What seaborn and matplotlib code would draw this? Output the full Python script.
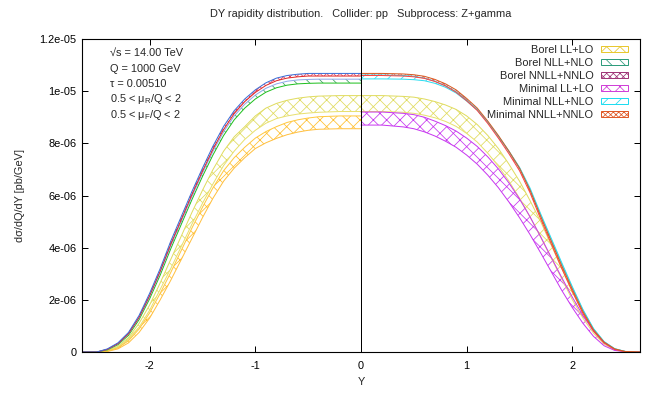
import numpy as np
import pandas as pd
import seaborn as sns
import matplotlib.pyplot as plt
from matplotlib.patches import Patch

# rapidity grids: left half shows the Borel bands, right half the Minimal ones
y_left = [-2.64, -2.5, -2.4, -2.3, -2.2, -2.1, -2.0, -1.9, -1.8, -1.7, -1.6, -1.5, -1.4,
          -1.3, -1.2, -1.1, -1.0, -0.9, -0.8, -0.7, -0.6, -0.5, -0.4, -0.2, 0.0]
y_right = [0.0, 0.2, 0.4, 0.5, 0.6, 0.7, 0.8, 0.9, 1.0, 1.1, 1.2, 1.3, 1.4, 1.5, 1.6,
           1.7, 1.8, 1.9, 2.0, 2.1, 2.2, 2.3, 2.4, 2.5, 2.64]

# values in units of 1e-6 pb/GeV
borel_nnll_hi = [0, 0, 0.12, 0.35, 0.75, 1.4, 2.25, 3.2, 4.25, 5.2, 6.15, 7.05, 7.9,
                 8.65, 9.25, 9.7, 10.05, 10.32, 10.5, 10.6, 10.65, 10.68, 10.68, 10.68, 10.68]
borel_nnll_lo = [0, 0, 0.1, 0.32, 0.7, 1.33, 2.16, 3.1, 4.13, 5.08, 6.03, 6.93, 7.78,
                 8.53, 9.14, 9.6, 9.95, 10.22, 10.4, 10.5, 10.55, 10.58, 10.58, 10.58, 10.58]
borel_nll_hi = [0, 0, 0.1, 0.31, 0.69, 1.31, 2.13, 3.06, 4.08, 5.02, 5.96, 6.86, 7.7,
                8.44, 9.05, 9.5, 9.85, 10.11, 10.28, 10.38, 10.43, 10.45, 10.46, 10.46, 10.46]
borel_nll_lo = [0, 0, 0.08, 0.28, 0.64, 1.24, 2.04, 2.95, 3.96, 4.9, 5.84, 6.73, 7.56,
                8.3, 8.9, 9.35, 9.7, 9.96, 10.13, 10.23, 10.28, 10.3, 10.31, 10.31, 10.31]
borel_ll_hi = [0, 0, 0.03, 0.16, 0.43, 0.88, 1.5, 2.25, 3.05, 3.9, 4.75, 5.55, 6.3,
               6.95, 7.45, 7.85, 8.2, 8.45, 8.64, 8.8, 8.9, 8.97, 9.02, 9.05, 9.05]
borel_ll_lo = [0, 0, 0.02, 0.12, 0.35, 0.75, 1.3, 2.0, 2.75, 3.55, 4.35, 5.15, 5.9,
               6.55, 7.05, 7.45, 7.8, 8.02, 8.19, 8.33, 8.43, 8.5, 8.54, 8.56, 8.56]

# light yellow band, drawn over the whole range
yellow_left_hi = [0, 0, 0.05, 0.22, 0.55, 1.1, 1.8, 2.65, 3.55, 4.45, 5.35, 6.2, 7.0,
                  7.7, 8.25, 8.64, 9.05, 9.35, 9.53, 9.65, 9.73, 9.78, 9.81, 9.83, 9.83]
yellow_left_lo = [0, 0, 0.03, 0.18, 0.47, 0.95, 1.6, 2.4, 3.2, 4.05, 4.9, 5.7, 6.45,
                  7.15, 7.7, 8.15, 8.5, 8.77, 8.95, 9.05, 9.12, 9.16, 9.19, 9.22, 9.22]
yellow_right_hi = [9.83, 9.83, 9.8, 9.77, 9.7, 9.6, 9.47, 9.3, 9.05, 8.72, 8.3, 7.8, 7.2,
                   6.55, 5.8, 5.0, 4.1, 3.2, 2.3, 1.5, 0.85, 0.36, 0.1, 0.02, 0]
yellow_right_lo = [9.22, 9.22, 9.19, 9.15, 9.08, 8.98, 8.84, 8.65, 8.38, 8.05, 7.62, 7.12, 6.55,
                   5.9, 5.17, 4.4, 3.6, 2.8, 2.0, 1.3, 0.72, 0.3, 0.08, 0.01, 0]

minimal_nnll_hi = [10.68, 10.68, 10.66, 10.63, 10.57, 10.45, 10.28, 10.05, 9.72, 9.35, 8.85, 8.3, 7.7,
                   7.05, 6.2, 5.2, 4.25, 3.3, 2.4, 1.55, 0.85, 0.38, 0.12, 0.02, 0]
minimal_nnll_lo = [10.6, 10.6, 10.58, 10.55, 10.49, 10.37, 10.2, 9.96, 9.63, 9.26, 8.76, 8.2, 7.6,
                   6.95, 6.1, 5.1, 4.15, 3.2, 2.32, 1.48, 0.8, 0.35, 0.1, 0.01, 0]
minimal_nll_hi = [10.62, 10.62, 10.6, 10.57, 10.5, 10.38, 10.21, 9.98, 9.66, 9.3, 8.81, 8.27, 7.68,
                  7.04, 6.22, 5.24, 4.3, 3.36, 2.46, 1.6, 0.88, 0.39, 0.12, 0.02, 0]
minimal_nll_lo = [10.47, 10.47, 10.46, 10.44, 10.4, 10.3, 10.15, 9.93, 9.62, 9.28, 8.8, 8.27, 7.7,
                  7.08, 6.28, 5.3, 4.36, 3.42, 2.5, 1.63, 0.9, 0.4, 0.13, 0.02, 0]
minimal_ll_hi = [9.2, 9.2, 9.15, 9.1, 9.0, 8.85, 8.68, 8.47, 8.2, 7.88, 7.48, 7.02, 6.48,
                 5.87, 5.18, 4.42, 3.63, 2.85, 2.1, 1.4, 0.8, 0.35, 0.1, 0.02, 0]
minimal_ll_lo = [8.7, 8.7, 8.63, 8.56, 8.44, 8.28, 8.08, 7.85, 7.55, 7.2, 6.78, 6.3, 5.75,
                 5.15, 4.5, 3.8, 3.08, 2.36, 1.7, 1.1, 0.6, 0.24, 0.06, 0.01, 0]

legend_labels = ["Borel LL+LO", "Borel NLL+NLO", "Borel NNLL+NNLO",
                 "Minimal LL+LO", "Minimal NLL+NLO", "Minimal NNLL+NNLO"]
legend_colors = ["#e8c830", "#2e9c7c", "#a03878", "#d040d8", "#20dcf0", "#e05a28"]
legend_hatches = ["xx", "\\\\", "xxxx", "xx", "//", "xxxxx"]

xticks = [-2, -1, 0, 1, 2]
yticks = [0, 2e-6, 4e-6, 6e-6, 8e-6, 1e-5, 1.2e-5]
ytick_labels = ["0", "2e-06", "4e-06", "6e-06", "8e-06", "1e-05", "1.2e-05"]

sns.set_theme(style="ticks")
plt.rcParams["font.family"] = ["Liberation Sans", "DejaVu Sans"]
plt.rcParams["mathtext.fontset"] = "custom"
plt.rcParams["mathtext.rm"] = "Liberation Sans"
plt.rcParams["hatch.linewidth"] = 0.7

fs = 9.9
fig = plt.figure(figsize=(8.2, 4.925), dpi=80)
ax = fig.add_axes([82 / 656, 1 - 352 / 394, 558 / 656, 313 / 394])

# (x, lo, hi, hatch colour, hatch, lo line colour, hi line colour)
bands = [
    (y_left, yellow_left_lo, yellow_left_hi, "#e0dc60", "xx", "#e8e070", "#e0dc60"),
    (y_right, yellow_right_lo, yellow_right_hi, "#e0dc60", "xx", "#e8e070", "#e0dc60"),
    (y_left, borel_ll_lo, borel_ll_hi, "#ffc030", "xx", "#ffc040", "#ffc840"),
    (y_left, borel_nll_lo, borel_nll_hi, "#3aa060", "\\\\", "#20c020", "#90a8ea"),
    (y_left, borel_nnll_lo, borel_nnll_hi, "#e04060", "xxxx", "#e02828", "#3a6fd8"),
    (y_right, minimal_ll_lo, minimal_ll_hi, "#c838f0", "xx", "#c838f0", "#c838f0"),
    (y_right, minimal_nll_lo, minimal_nll_hi, "#30d8f0", "//", "#30dcf0", "#30dcf0"),
    (y_right, minimal_nnll_lo, minimal_nnll_hi, "#ff5040", "xxxx", "#ff4040", "#d85a20"),
]

for x, lo, hi, hc, hatch, lc_lo, lc_hi in bands:
    lo_v = np.array(lo) * 1e-6
    hi_v = np.array(hi) * 1e-6
    ax.fill_between(x, lo_v, hi_v, facecolor="none", edgecolor=hc, hatch=hatch,
                    linewidth=0)
    sns.lineplot(x=x, y=lo_v, color=lc_lo, lw=0.9, ax=ax)
    sns.lineplot(x=x, y=hi_v, color=lc_hi, lw=0.9, ax=ax)

ax.axvline(0, color="black", lw=0.9)

ax.set_xlim(-2.64, 2.64)
ax.set_ylim(0, 1.2e-5)
ax.set_xticks(xticks)
ax.set_xticklabels([str(t) for t in xticks])
ax.set_yticks(yticks)
ax.set_yticklabels(ytick_labels)
ax.tick_params(direction="in", length=5, width=0.9, top=True, right=True,
               labelsize=fs, colors="black")
ax.tick_params(axis="y", pad=5)
ax.tick_params(axis="x", pad=8)
for s in ax.spines.values():
    s.set_color("black")
    s.set_linewidth(1.0)
ax.set_xlabel("")
ax.set_ylabel("")

fig.text(361 / 656, 1 - 14 / 394,
         "DY rapidity distribution.   Collider: pp   Subprocess: Z+gamma",
         ha="center", va="center", fontsize=fs)
fig.text(361 / 656, 1 - 382 / 394, "Y", ha="center", va="center", fontsize=fs)
fig.text(20 / 656, 1 - 195 / 394, "dσ/dQ/dY [pb/GeV]", rotation=90,
         ha="center", va="center", fontsize=fs)

info = ["√s = 14.00 TeV", "Q = 1000 GeV", "τ = 0.00510",
        r"0.5 < μ$_\mathrm{R}$/Q < 2", r"0.5 < μ$_\mathrm{F}$/Q < 2"]
for i, line in enumerate(info):
    fig.text(110 / 656, 1 - (53 + 15.5 * i) / 394, line, ha="left", va="center",
             fontsize=fs)

handles = [Patch(facecolor="none", edgecolor=c, hatch=h, linewidth=0.9)
           for c, h in zip(legend_colors, legend_hatches)]
ax.legend(handles, legend_labels, loc="upper right", frameon=False, markerfirst=False,
          fontsize=fs, handlelength=2.5, handleheight=0.5, handletextpad=0.65,
          labelspacing=0.27, borderpad=0, borderaxespad=0,
          bbox_to_anchor=((628 - 82) / 558, 1 - 6 / 313))

fig.savefig("out.png", dpi=80)
